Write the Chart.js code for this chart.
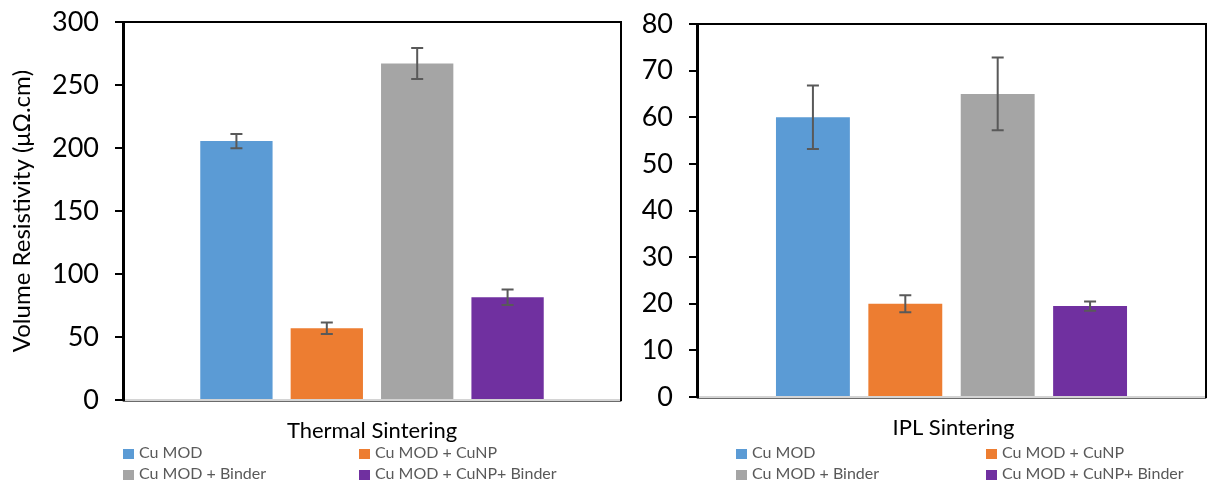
<!DOCTYPE html>
<html>
<head>
<meta charset="utf-8">
<script src="https://cdn.jsdelivr.net/npm/chart.js@4.4.1/dist/chart.umd.min.js"></script>
<style>
  html, body { margin: 0; padding: 0; background: #fff; }
  #wrap { position: relative; width: 1208px; height: 487px; overflow: hidden; font-family: Lato, "Open Sans", sans-serif; }
  canvas { position: absolute; top: 0; }
  .item { position: absolute; white-space: nowrap; font-size: 16px; color: #595959; line-height: 18px; }
  .item i { display: inline-block; width: 11px; height: 10px; margin-right: 5px; vertical-align: -1px; }
</style>
</head>
<body>
<div id="wrap">
  <canvas id="thermal" width="640" height="487" style="left:0"></canvas>
  <canvas id="ipl" width="568" height="487" style="left:640px"></canvas>
</div>
<script>
// Sample series
const seriesNames = ['Cu MOD', 'Cu MOD + CuNP', 'Cu MOD + Binder', 'Cu MOD + CuNP+ Binder'];
const seriesColors = ['#5B9BD5', '#ED7D31', '#A5A5A5', '#7030A0'];

// Thermal sintering: mean resistivity and error (µΩ.cm)
const thermalCategory = ['Thermal Sintering'];
const thermalValues = [205.5, 57, 267, 81.5];
const thermalErrors = [5.7, 4.6, 12.3, 6.2];
const thermalTicks = [0, 50, 100, 150, 200, 250, 300];

// IPL sintering: mean resistivity and error (µΩ.cm)
const iplCategory = ['IPL Sintering'];
const iplValues = [60, 20, 65, 19.5];
const iplErrors = [6.8, 1.8, 7.8, 1.0];
const iplTicks = [0, 10, 20, 30, 40, 50, 60, 70, 80];

Chart.defaults.font.family = 'Lato, "Open Sans", sans-serif';
Chart.defaults.color = '#000';

// Plot-area frame: black top and right edges, grey base line
const framePlugin = {
  id: 'frame',
  beforeDatasetsDraw(chart) {
    const { ctx, chartArea: a } = chart;
    ctx.save();
    ctx.strokeStyle = '#000';
    ctx.lineWidth = 2;
    ctx.beginPath();
    ctx.moveTo(a.left, a.top);
    ctx.lineTo(a.right, a.top);
    ctx.lineTo(a.right, a.bottom + 1);
    ctx.stroke();
    ctx.strokeStyle = '#6b6b6b';
    ctx.lineWidth = 1;
    ctx.beginPath();
    ctx.moveTo(a.left, a.bottom + 1.5);
    ctx.lineTo(a.right, a.bottom + 1.5);
    ctx.stroke();
    ctx.restore();
  }
};

// Error bars with caps, drawn from each dataset's error array
const errorBarPlugin = {
  id: 'errorBars',
  afterDatasetsDraw(chart) {
    const { ctx } = chart;
    const y = chart.scales.y;
    ctx.save();
    ctx.strokeStyle = '#595959';
    ctx.lineWidth = 2;
    chart.data.datasets.forEach((ds, i) => {
      const meta = chart.getDatasetMeta(i);
      meta.data.forEach((bar, j) => {
        const v = ds.data[j], e = ds.errors[j];
        const yTop = y.getPixelForValue(v + e);
        const yBot = y.getPixelForValue(v - e);
        const x = bar.x, cap = 6;
        ctx.beginPath();
        ctx.moveTo(x, yTop); ctx.lineTo(x, yBot);
        ctx.moveTo(x - cap, yTop); ctx.lineTo(x + cap, yTop);
        ctx.moveTo(x - cap, yBot); ctx.lineTo(x + cap, yBot);
        ctx.stroke();
      });
    });
    ctx.restore();
  }
};

function makeChart(id, category, values, errors, ticks, opts) {
  const datasets = seriesNames.map((name, i) => ({
    label: name,
    data: [values[i]],
    errors: [errors[i]],
    backgroundColor: seriesColors[i],
    borderWidth: 0,
    categoryPercentage: 0.726,
    barPercentage: 0.8
  }));
  const max = ticks[ticks.length - 1];
  const step = ticks[1] - ticks[0];
  return new Chart(document.getElementById(id), {
    type: 'bar',
    data: { labels: category, datasets },
    options: {
      responsive: false,
      animation: false,
      devicePixelRatio: 1,
      layout: { padding: { top: opts.top, right: opts.right, left: 0, bottom: 0 } },
      plugins: { legend: { display: false }, tooltip: { enabled: false } },
      scales: {
        x: {
          grid: { display: false, drawTicks: false },
          border: { display: true, color: '#d4d4d4', width: 3 },
          ticks: { font: { size: 22 }, color: '#000', padding: 18, labelOffset: opts.labelOffset || 0 },
          afterFit: (s) => { s.height = opts.xHeight; s.paddingLeft = 0; s.paddingRight = 0; }
        },
        y: {
          min: 0, max: max,
          afterBuildTicks: (s) => { s.ticks = ticks.map(v => ({ value: v })); },
          ticks: { stepSize: step, font: { size: 27 }, color: '#000', padding: 16 },
          grid: { drawOnChartArea: false, drawTicks: true, tickLength: 8, color: '#000', lineWidth: 2 },
          border: { display: true, color: '#000', width: 3 },
          title: opts.yTitle ? { display: true, text: opts.yTitle, font: { size: 24 }, color: '#000', padding: { top: 8, bottom: 0 } } : { display: false },
          afterFit: (s) => { s.width = opts.yWidth; s.paddingTop = 0; s.paddingBottom = 0; }
        }
      }
    },
    plugins: [framePlugin, errorBarPlugin]
  });
}

const thermalChart = makeChart('thermal', thermalCategory, thermalValues, thermalErrors, thermalTicks,
  { top: 22, right: 19, xHeight: 87, yWidth: 123, yTitle: 'Volume Resistivity (μΩ.cm)' });
const iplChart = makeChart('ipl', iplCategory, iplValues, iplErrors, iplTicks,
  { top: 24, right: 2, xHeight: 90, yWidth: 57, labelOffset: 2 });

// Two-column legends under each panel, built from the chart datasets
function buildLegend(chart, cols, rowTops) {
  const wrap = document.getElementById('wrap');
  chart.data.datasets.forEach((ds, i) => {
    const el = document.createElement('div');
    el.className = 'item';
    el.style.left = cols[i % 2] + 'px';
    el.style.top = rowTops[Math.floor(i / 2)] + 'px';
    const sw = document.createElement('i');
    sw.style.background = ds.backgroundColor;
    el.appendChild(sw);
    el.appendChild(document.createTextNode(ds.label));
    wrap.appendChild(el);
  });
}
buildLegend(thermalChart, [123, 359], [443, 464]);
buildLegend(iplChart, [736, 986], [443, 464]);
</script>
</body>
</html>
